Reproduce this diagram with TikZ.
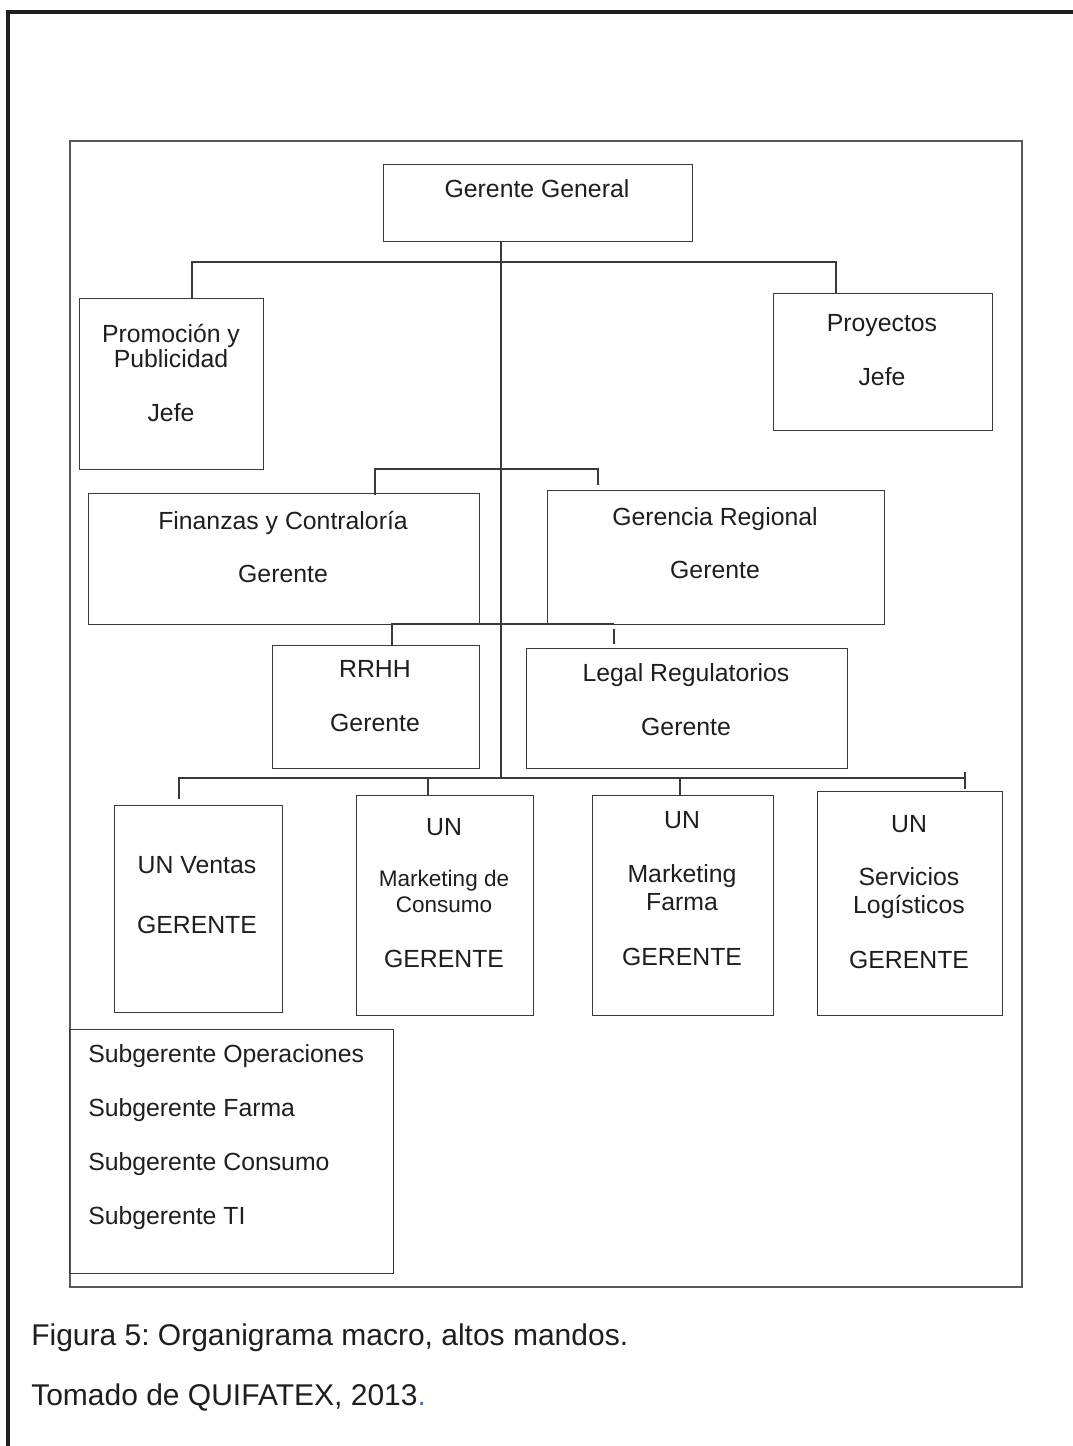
\documentclass[tikz,border=0pt]{standalone}
\usepackage{fontspec}
\setmainfont{Liberation Sans}
\usetikzlibrary{calc}
\frenchspacing
\definecolor{ln}{HTML}{3A3A3A}
\definecolor{tx}{HTML}{1E1E1E}
\definecolor{dotblue}{HTML}{3F6FC8}
\tikzset{
  orgbox/.style={draw=ln, line width=1.1pt, inner sep=0pt, anchor=north west, fill=none},
  conn/.style={draw=ln, line width=1.1pt},
  lbl/.style={text=tx, inner sep=0pt, anchor=base, font=\fontsize{18.6}{22}\selectfont},
  small/.style={lbl, font=\fontsize{16.9}{20}\selectfont},
  sub/.style={lbl, anchor=base west},
  captext/.style={text=tx, inner sep=0pt, anchor=base west, font=\fontsize{22.5}{26}\selectfont}
}
\newcommand\orgbx[5]{\node[orgbox, minimum width={(#4-#2)*0.75pt}, minimum height={(#5-#3)*0.75pt}] (#1) at (#2,#3) {};}
\begin{document}
\begin{tikzpicture}[x=0.75pt,y=-0.75pt]
\useasboundingbox (0,0) rectangle (1073,1446);
% outer border (top and left)
\draw[line width=3pt, black!88] (8,1460) -- (8,11.5) -- (1090,11.5);
% inner frame
\node[draw=black!65, line width=1.3pt, inner sep=0pt, anchor=north west, minimum width={952*0.75pt}, minimum height={1146*0.75pt}] (frame) at (69,140) {};

% boxes
\orgbx{gg}{383}{164}{692}{241}
\orgbx{pp}{79}{298}{263}{469}
\orgbx{py}{773}{293}{992}{430}
\orgbx{fz}{88}{493}{479}{624}
\orgbx{gr}{547}{490}{884}{624}
\orgbx{rh}{272}{645}{479}{768}
\orgbx{lg}{526}{648}{847}{768}
\orgbx{uv}{114}{805}{282}{1012}
\orgbx{mc}{356}{795}{533}{1015}
\orgbx{mf}{592}{795}{773}{1015}
\orgbx{sv}{817}{791}{1002}{1015}
\orgbx{sg}{69}{1029}{393}{1273}

% bus coordinates
\coordinate (t1) at (501,262);
\coordinate (t1L) at (192,262);
\coordinate (t1R) at (836,262);
\coordinate (t2L) at (375,469);
\coordinate (t2R) at (598,469);
\coordinate (t3L) at (392,624);
\coordinate (t3R) at (614,624);
\coordinate (t4) at (501,778);
\coordinate (t4L) at (179,778);
\coordinate (t4R) at (965,778);
\coordinate (d2) at (428,778);
\coordinate (d3) at (680,778);

% connectors
\draw[conn] (gg.south -| t1) -- (t4);
\draw[conn] (t1L |- pp.north) -- (t1L) -- (t1R) -- (t1R |- py.north);
\draw[conn] ($(t2L |- fz.north)+(0,2)$) -- (t2L) -- (t2R) -- ($(t2R |- gr.north)+(0,-5)$);
\draw[conn] (rh.north -| t3L) -- (t3L) -- (t3R);
\draw[conn] ($(t3R)+(0,5)$) -- ($(lg.north -| t3R)+(0,-4)$);
\draw[conn] ($(t4L |- uv.north)+(0,-6)$) -- (t4L) -- (t4R);
\draw[conn] (mc.north -| d2) -- (d2);
\draw[conn] (mf.north -| d3) -- (d3);
\draw[conn] ($(t4R)+(0,-6)$) -- ($(t4R |- sv.north)+(0,-2)$);

% texts
\node[lbl] (ggt) at (537,197) {Gerente General};
\node[lbl] (ppt1) at (171,342) {Promoción y};
\node[lbl] (ppt2) at (171,367) {Publicidad};
\node[lbl] (ppt3) at (171,421) {Jefe};
\node[lbl] (pyt1) at (882,331) {Proyectos};
\node[lbl] (pyt2) at (882,385) {Jefe};
\node[lbl] (fzt1) at (283,529) {Finanzas y Contraloría};
\node[lbl] (fzt2) at (283,582) {Gerente};
\node[lbl] (grt1) at (715,525) {Gerencia Regional};
\node[lbl] (grt2) at (715,578) {Gerente};
\node[lbl] (rht1) at (375,677) {RRHH};
\node[lbl] (rht2) at (375,731) {Gerente};
\node[lbl] (lgt1) at (686,681) {Legal Regulatorios};
\node[lbl] (lgt2) at (686,735) {Gerente};
\node[lbl] (uvt1) at (197,873) {UN Ventas};
\node[lbl] (uvt2) at (197,933) {GERENTE};
\node[lbl] (mct1) at (444,835) {UN};
\node[small] (mct2) at (444,886) {Marketing de};
\node[small] (mct3) at (444,912) {Consumo};
\node[lbl] (mct4) at (444,967) {GERENTE};
\node[lbl] (mft1) at (682,828) {UN};
\node[lbl] (mft2) at (682,882) {Marketing};
\node[lbl] (mft3) at (682,910) {Farma};
\node[lbl] (mft4) at (682,965) {GERENTE};
\node[lbl] (svt1) at (909,832) {UN};
\node[lbl] (svt2) at (909,885) {Servicios};
\node[lbl] (svt3) at (909,913) {Logísticos};
\node[lbl] (svt4) at (909,968) {GERENTE};
\node[sub] (sgt1) at (88,1062) {Subgerente Operaciones};
\node[sub] (sgt2) at (88,1116) {Subgerente Farma};
\node[sub] (sgt3) at (88,1170) {Subgerente Consumo};
\node[sub] (sgt4) at (88,1224) {Subgerente TI};
% caption
\node[captext] (cap1) at (31,1345) {Figura 5: Organigrama macro, altos mandos.};
\node[captext] (cap2) at (31,1405) {Tomado de QUIFATEX, 2013\textcolor{dotblue}{.}};
\end{tikzpicture}
\end{document}
